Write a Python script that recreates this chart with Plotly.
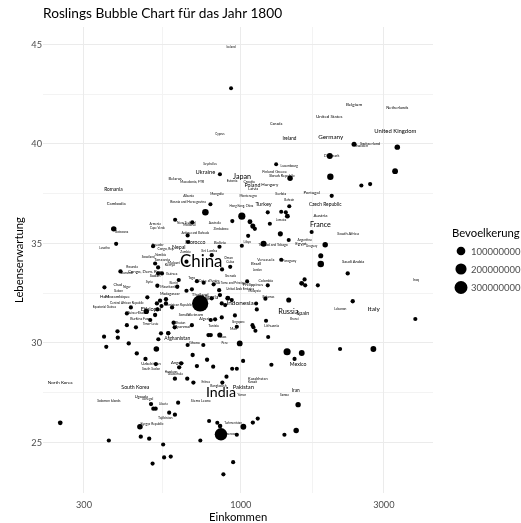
import math
import plotly.graph_objects as go

# ---------------- data ----------------
# bubbles: income (GDP/capita), life expectancy, population (millions)
point_income = [928, 2386, 3326, 1980, 1312, 1460, 1989, 3270, 2524, 2700, 2010, 852, 792, 762, 1008,
                604, 689, 937, 377, 384, 1073, 1097, 1114, 1230, 1364, 1413, 1430, 1451, 1250, 1723,
                1355, 1058, 1445, 1191, 1008, 1912, 1848, 1848, 1364, 2273, 1050, 1632, 1596, 1640, 1807,
                1230, 1208, 1445, 2362, 1125, 1131, 956, 1214, 1094, 1102, 1119, 1234, 3820, 992, 1427,
                1597, 1511, 1265, 1018, 936, 970, 896, 868, 2143, 2768, 1553, 1139, 1097, 1020, 970,
                1530, 1398, 943, 875, 859, 835, 784, 853, 733, 551, 555, 584, 508, 363, 250,
                461, 464, 495, 502, 511, 520, 577, 603, 618, 350, 389, 388, 531, 573, 356,
                423, 523, 450, 481, 691, 665, 750, 794, 851, 772, 714, 809, 623, 633, 521,
                603, 663, 695, 732, 665, 667, 518, 530, 530, 397, 659, 866, 351, 527, 621,
                614, 659, 488, 430, 525, 538, 563, 563, 544, 484, 518, 527, 590, 417, 499,
                447, 417, 597, 602, 573, 714, 752, 812, 847, 687, 800, 852, 905, 933, 864,
                887, 794, 821, 864, 970, 780, 687, 542, 510, 546, 849, 800, 922]
point_lifeexp = [42.8, 39.99, 39.84, 39.39, 38.98, 38.28, 38.35, 38.63, 37.91, 37.98, 37.39, 38.48, 36.97, 36.57, 36.37,
                 36.19, 36.06, 36.12, 35.73, 34.98, 36.09, 35.87, 35.73, 36.56, 36.59, 36.56, 36.37, 36.87, 35.99, 35.57,
                 35.48, 35.38, 35.17, 34.98, 34.88, 34.93, 34.38, 33.96, 34.18, 33.49, 33.09, 33.19, 32.99, 32.89, 32.89,
                 32.89, 32.22, 32.15, 32.09, 31.98, 31.68, 31.38, 31.11, 30.89, 30.78, 30.61, 30.29, 31.2, 29.97, 29.55,
                 29.49, 29.19, 28.9, 29.09, 28.7, 28.7, 28.3, 28.0, 29.69, 29.69, 26.89, 26.19, 25.99, 25.78, 25.38,
                 25.59, 25.38, 24.0, 23.39, 25.4, 25.98, 26.07, 25.82, 25.09, 24.89, 24.24, 24.28, 23.93, 25.09, 25.98,
                 25.78, 25.28, 25.18, 26.92, 26.69, 26.69, 26.49, 26.39, 26.99, 30.31, 30.26, 30.58, 30.18, 30.49, 29.8,
                 29.97, 29.69, 29.47, 29.19, 29.39, 29.89, 29.89, 30.39, 30.39, 29.15, 28.83, 28.8, 28.77, 28.97, 28.93,
                 28.2, 28.2, 28.0, 31.98, 35.4, 35.07, 33.99, 33.79, 33.49, 33.59, 34.08, 33.69, 32.79, 32.87, 33.16,
                 32.82, 32.62, 32.29, 31.78, 31.98, 32.12, 32.19, 31.98, 31.85, 31.58, 31.4, 31.68, 31.78, 31.48, 31.15,
                 30.78, 30.89, 31.01, 30.78, 30.48, 33.1, 33.02, 32.94, 32.65, 32.69, 32.24, 32.4, 32.24, 32.15, 31.98,
                 31.9, 31.15, 31.18, 31.28, 30.81, 30.39, 30.89, 30.48, 34.86, 33.49, 34.83, 34.41, 33.82]
point_pop_mio = [0.8, 5.5, 9, 14, 0.8, 9, 18, 12, 1.5, 1.5, 1.5, 1.2, 1.2, 20, 28,
                 1.5, 1.5, 1.5, 9, 1.5, 5, 6, 1.5, 1.2, 1.2, 1.2, 5, 1.2, 1.2, 1.2,
                 6, 1.2, 1.2, 14, 1.2, 9, 6, 20, 1.2, 2, 1.2, 1.5, 5, 1.5, 1.2,
                 1.2, 1.5, 6, 2, 1.2, 1.2, 1.2, 1.2, 1.2, 1.2, 1.2, 1.2, 1.5, 12, 28,
                 12, 1.5, 1.5, 1.5, 1.2, 1.2, 1.5, 1.5, 1.5, 12, 8, 1.5, 2, 12, 1.5,
                 9, 1.5, 1.5, 1.5, 160, 1.2, 1.2, 3, 1.2, 1.5, 1.5, 1.5, 1.5, 1.5, 4,
                 10, 2, 2, 2, 2, 2, 1.5, 2, 1.5, 1.5, 2, 2, 1.5, 2, 1.5,
                 2, 10, 2, 2, 2, 1.5, 1.5, 2, 6, 2, 2, 1.5, 2, 2, 1.5,
                 2, 2, 2, 321, 1.5, 1.5, 1.5, 1.5, 1.5, 2, 1.5, 1.5, 1.5, 2, 1.5,
                 2, 1.5, 1.5, 1.5, 2, 2, 2, 2, 1.5, 8, 2, 2, 2, 1.5, 1.5,
                 1.5, 1.5, 2, 2, 2, 1.5, 1.5, 1.5, 1.5, 1.5, 2, 2, 5, 1.5, 1.5,
                 1.5, 1.5, 1.5, 1.5, 1.5, 1.5, 1.5, 1.5, 1.5, 1.5, 1.5, 1.5, 1.5]

# country labels: name, income, life expectancy, population (millions)
label_names = ["Iceland", "Belgium", "Netherlands", "United States", "Canada", "United Kingdom", "Ireland",
               "Germany", "Cyprus", "Switzerland", "Sweden", "Denmark", "Seychelles", "Luxembourg", "Ukraine",
               "Japan", "Finland", "Greece", "Slovak Republic", "Belarus", "Macedonia, FYR", "Estonia", "Croatia",
               "Poland", "Latvia", "Hungary", "Romania", "Albania", "Mongolia", "Montenegro", "Serbia", "Portugal",
               "Bahrain", "Bosnia and Herzegovina", "Cambodia", "Hong Kong, China", "Turkey", "Czech Republic",
               "Armenia", "Cape Verde", "New Zealand", "Moldova", "Australia", "Jamaica", "Austria", "Zimbabwe",
               "France", "Botswana", "Antigua and Barbuda", "South Africa", "Argentina", "Libya", "Egypt",
               "Trinidad and Tobago", "Uruguay", "Lesotho", "Ecuador", "Congo, Rep.", "Nepal", "Morocco", "Bolivia",
               "Zambia", "Sri Lanka", "Namibia", "Swaziland", "Tanzania", "China", "Malawi", "Kenya", "Oman", "Cuba",
               "Venezuela", "Brazil", "Paraguay", "Saudi Arabia", "Rwanda", "Jordan", "Burundi", "Congo, Dem. Rep.",
               "Guinea", "Sudan", "Grenada", "Togo", "Cote d'Ivoire", "Syria", "Colombia", "Benin",
               "Sao Tome and Principe", "Chad", "Philippines", "Niger", "Mauritania", "Gabon",
               "United Arab Emirates", "Malaysia", "Madagascar", "Thailand", "Nigeria", "Haiti", "Mozambique",
               "Bahamas", "Central African Republic", "Indonesia", "Dominican Republic", "Equatorial Guinea",
               "Ethiopia", "Lebanon", "Italy", "Russia", "Spain", "Guinea-Bissau", "Somalia", "Vietnam", "Myanmar",
               "Burkina Faso", "Algeria", "Brunei", "Singapore", "Timor-Leste", "Bhutan", "Lithuania", "Tunisia",
               "Mali", "Laos", "Afghanistan", "Ghana", "Peru", "Uzbekistan", "Angola", "South Sudan", "Honduras",
               "Guatemala", "North Korea", "South Korea", "Eritrea", "Bangladesh", "Mexico", "Kazakhstan", "Kuwait",
               "Pakistan", "Iran", "Yemen", "Samoa", "India", "Uganda", "Senegal", "Solomon Islands",
               "Sierra Leone", "Liberia", "Tajikistan", "Kyrgyz Republic", "Turkmenistan", "Cameroon", "Iraq"]
label_income = [928, 2386, 3326, 1973, 1312, 3276, 1453, 1995, 852, 2700, 2532, 2010, 790, 1451, 762,
                1010, 1233, 1364, 1373, 604, 688, 935, 1066, 1094, 1100, 1250, 376, 670, 833, 1058, 1359, 1723,
                1451, 667, 384, 1005, 1191, 1912, 518, 528, 658, 674, 819, 1364, 1843, 860,
                1843, 401, 705, 2280, 1632, 1051, 1588, 1280, 1723, 351, 529, 563, 621, 705, 852,
                654, 785, 540, 491, 546, 738, 597, 580, 910, 922, 1212, 1125, 1451, 2370, 434, 1135, 417, 480,
                588, 518, 924, 686, 785, 495, 1212, 597, 922, 389, 1097, 417, 574, 391,
                995, 1110, 580, 732, 790, 351, 388, 1236, 417, 995, 618, 351,
                502, 2147, 2775, 1441, 1610, 450, 648, 705, 636, 462, 760, 1509, 982, 500, 628, 1268, 811,
                945, 875, 614, 700, 882, 502, 614, 502, 586, 605, 250, 445, 764, 842, 1553, 1140, 1094,
                1020, 1525, 1008, 1398, 859, 466, 489, 363, 736, 552, 560, 506, 943, 916, 3840]
label_lifeexp = [44.85, 41.96, 41.83, 41.38, 40.98, 40.61, 40.28, 40.34, 40.48, 39.99, 39.89, 39.39, 38.98, 38.88, 38.57,
                 38.35, 38.57, 38.58, 38.37, 38.22, 38.07, 38.13, 38.08, 37.88, 37.73, 37.96, 37.68, 37.38, 37.46, 37.38, 37.48, 37.56,
                 37.16, 37.08, 36.97, 36.87, 36.97, 36.92, 35.97, 35.78, 36.04, 35.9, 36.04, 36.17, 36.37, 35.69,
                 35.92, 35.55, 35.5, 35.47, 35.17, 35.07, 34.98, 34.9, 34.86, 34.78, 34.9, 34.7, 34.78, 35.05, 35.0,
                 34.56, 34.6, 34.4, 34.28, 34.16, 34.0, 34.0, 33.93, 34.25, 34.05, 34.16, 33.98, 34.13, 34.08, 33.79, 33.67, 33.5, 33.56,
                 33.46, 33.38, 33.37, 33.27, 33.12, 33.07, 33.11, 32.99, 32.99, 32.89, 32.89, 32.79, 32.79, 32.57,
                 32.69, 32.59, 32.45, 32.42, 32.29, 32.29, 32.29, 32.29, 31.98, 31.98, 31.88, 31.78,
                 31.68, 31.68, 31.68, 31.55, 31.47, 31.48, 31.38, 31.4, 30.78, 31.18, 31.18, 31.18, 31.06, 30.93, 31.0, 30.86, 30.84,
                 30.71, 30.28, 30.19, 29.97, 29.97, 28.92, 28.97, 28.68, 28.5, 28.42, 28.0, 27.76, 28.0, 27.8, 28.88, 28.18, 28.0,
                 27.76, 27.58, 27.38, 27.38, 27.43, 27.29, 27.18, 27.08, 27.09, 26.91, 26.24, 25.92, 25.98, 25.38, 33.16]
label_pop_mio = [0.02, 4.7, 2.4, 4.2, 1.3, 14.7, 5.3, 18.9, 0.02, 2.0, 0.8, 1.3, 0.02, 0.15, 13.7,
                 30.2, 1.05, 1.3, 1.3, 2.0, 0.4, 0.26, 0.6, 9.4, 1.3, 4.2, 6.5, 0.26, 0.26, 0.15, 2.0, 3.7,
                 0.02, 0.4, 3.2, 0.02, 11.9, 6.5, 0.02, 0.02, 0.15, 0.26, 0.15, 0.02, 4.2, 0.26,
                 28.8, 0.02, 0.02, 2.0, 0.26, 0.15, 4.7, 0.4, 0.02, 0.02, 0.15, 0.15, 9.4, 8.7, 2.0,
                 0.15, 2.0, 0.02, 0.02, 3.2, 321, 1.3, 1.3, 0.15, 0.6, 1.3, 3.2, 0.6, 2.4, 0.26, 0.02, 0.6, 3.7,
                 1.3, 2.0, 0.02, 0.15, 1.3, 0.26, 0.6, 0.26, 0.02, 1.3, 3.2, 0.26, 0.6, 0.02,
                 0.02, 0.26, 1.3, 4.2, 8.7, 3.2, 3.2, 0.02, 0.15, 21.2, 0.15, 0.02,
                 13.7, 0.26, 21.2, 33.0, 10.2, 0.02, 0.15, 3.2, 3.2, 0.8, 1.3, 0.02, 0.02, 0.02, 0.26, 1.05, 0.6,
                 0.6, 0.02, 7.2, 1.3, 0.02, 2.0, 2.8, 0.26, 0.02, 0.15, 4.7, 8.7, 0.02, 0.26, 8.7, 1.6, 0.02,
                 13.7, 5.9, 0.02, 0.02, 209, 2.0, 0.26, 0.26, 1.05, 0.02, 0.8, 0.26, 0.02, 0.02, 0.6]

x_ticks = [300, 1000, 3000]
y_ticks = [25, 30, 35, 40, 45]
legend_breaks = [100000000, 200000000, 300000000]

# ---------------- scales ----------------
POP_MAX = max(point_pop_mio + label_pop_mio)


def bubble_diameter(p):
    return 3.3 + 13.0 * math.sqrt(p / POP_MAX)


def label_font(p):
    return 2.9 + 14.0 * math.sqrt(p / POP_MAX)


FONT = "Lato"
fig = go.Figure()

fig.add_trace(go.Scatter(
    x=point_income, y=point_lifeexp, mode="markers",
    marker=dict(size=[bubble_diameter(p) for p in point_pop_mio], sizemode="diameter",
                color="black", opacity=1, line=dict(width=0)),
    showlegend=False, hoverinfo="skip", cliponaxis=False))

fig.add_trace(go.Scatter(
    x=label_income, y=label_lifeexp, mode="text", text=label_names,
    textposition="middle center",
    textfont=dict(family=FONT, color="black", size=[label_font(p) for p in label_pop_mio]),
    showlegend=False, hoverinfo="skip"))

# geometry of panel (pixels)
W, H = 521, 523
L, R, T, B = 43, 88, 27, 30
pw, ph = W - L - R, H - T - B


def px_x(px):
    return (px - L) / pw


def px_y(py):
    return (H - B - py) / ph


minor_x = [math.sqrt(x_ticks[i] * x_ticks[i + 1]) for i in range(len(x_ticks) - 1)]
minor_y = [(y_ticks[i] + y_ticks[i + 1]) / 2 for i in range(len(y_ticks) - 1)] + [y_ticks[0] - 2.5]

tick_font = dict(family=FONT, size=9.2, color="#4D4D4D")
fig.update_xaxes(type="log", range=[math.log10(219), math.log10(4375)],
                 tickmode="array", tickvals=x_ticks, ticktext=[str(v) for v in x_ticks],
                 showgrid=True, gridcolor="#EBEBEB", gridwidth=1,
                 minor=dict(tickmode="array", tickvals=minor_x, showgrid=True,
                            gridcolor="#F3F3F3", gridwidth=0.6),
                 zeroline=False, showline=False, ticks="", automargin=False,
                 ticklabelstandoff=5, tickfont=tick_font)
fig.update_yaxes(range=[22.45, 45.88], tickmode="array", tickvals=y_ticks,
                 showgrid=True, gridcolor="#EBEBEB", gridwidth=1,
                 minor=dict(tickmode="array", tickvals=minor_y, showgrid=True,
                            gridcolor="#F3F3F3", gridwidth=0.6),
                 zeroline=False, showline=False, ticks="", automargin=False,
                 tickfont=tick_font)

annotations = [
    dict(text="Einkommen", xref="paper", yref="paper", x=0.5, y=px_y(516), xanchor="center",
         yanchor="middle", showarrow=False, font=dict(family=FONT, size=11.3, color="black")),
    dict(text="Lebenserwartung", xref="paper", yref="paper", x=px_x(18), y=0.5, textangle=-90,
         xanchor="center", yanchor="middle", showarrow=False,
         font=dict(family=FONT, size=11.3, color="black")),
    dict(text="Bevoelkerung", xref="paper", yref="paper", x=px_x(450), y=px_y(232), xanchor="left",
         yanchor="middle", showarrow=False, font=dict(family=FONT, size=11.3, color="black")),
]
shapes = []
legend_rows = [251, 269, 287.5]
for b, row in zip(legend_breaks, legend_rows):
    size = 1 + 5 * math.sqrt(b / (POP_MAX * 1e6))
    d = 0.74 * (2.845 * size + 0.94)
    shapes.append(dict(type="circle", xref="paper", yref="paper", xsizemode="pixel", ysizemode="pixel",
                       xanchor=px_x(461), yanchor=px_y(row), x0=-d / 2, x1=d / 2, y0=-d / 2, y1=d / 2,
                       fillcolor="black", line=dict(width=0)))
    annotations.append(dict(text=str(b), xref="paper", yref="paper", x=px_x(469), y=px_y(row),
                            xanchor="left", yanchor="middle", showarrow=False,
                            font=dict(family=FONT, size=9.5, color="#4D4D4D")))

fig.update_layout(
    template="none", width=W, height=H,
    margin=dict(l=L, r=R, t=T, b=B, autoexpand=False),
    paper_bgcolor="white", plot_bgcolor="white",
    title=dict(text="Roslings Bubble Chart für das Jahr 1800", xref="paper", x=0, xanchor="left",
               yref="container", y=1 - 13.5 / H, yanchor="middle",
               font=dict(family=FONT, size=13.7, color="black")),
    annotations=annotations, shapes=shapes, showlegend=False, hovermode=False,
)

fig.write_html("out.html", config={"displayModeBar": False},
               post_script="document.body.style.margin='0';document.body.style.padding='0';"
                           "document.body.style.overflow='hidden';"
                           "document.querySelectorAll('svg.main-svg').forEach(function(s){"
                           "s.style.willChange='transform';});")
